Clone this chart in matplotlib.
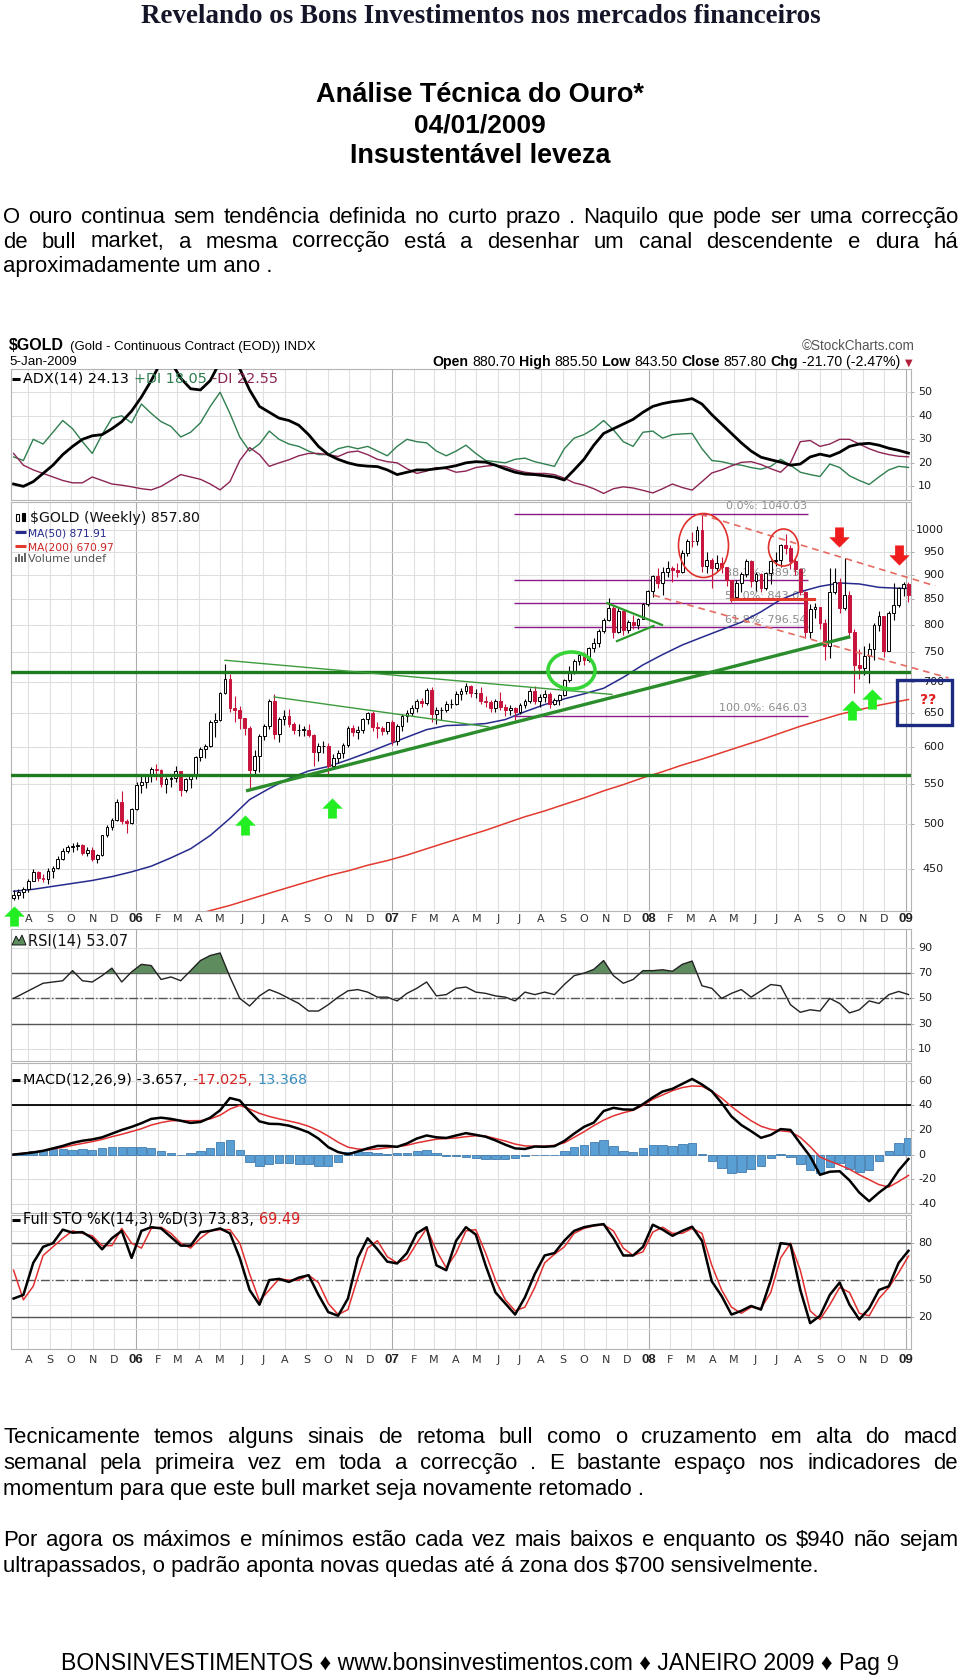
#!/usr/bin/env python3
import matplotlib
matplotlib.use('Agg')

import numpy as np
import pandas as pd
import matplotlib.pyplot as plt
import matplotlib.dates as mdates
import matplotlib.transforms as mtransforms
from matplotlib import font_manager
from matplotlib.path import Path
from matplotlib.patches import Rectangle, Polygon
from matplotlib.ticker import NullLocator
from matplotlib.transforms import Affine2D

# ---------------------------------------------------------------- data
# weekly $GOLD candles, one per week starting 11-Jul-2005 (last: 5-Jan-2009)
first_open = 420.0
closes = [423, 426, 429, 437, 447, 441, 440, 448, 451, 461,
          470, 474, 475, 476, 467, 471, 461, 465, 487, 497,
          505, 527, 504, 502, 518, 548, 552, 560, 570, 568,
          550, 556, 557, 567, 542, 556, 561, 586, 597, 602,
          637, 640, 681, 705, 657, 655, 643, 628, 568, 587,
          615, 630, 668, 618, 641, 646, 633, 624, 625, 625,
          617, 593, 601, 601, 574, 584, 592, 603, 627, 622,
          625, 641, 650, 629, 627, 623, 636, 609, 630, 645,
          650, 657, 669, 666, 686, 648, 654, 654, 664, 664,
          680, 684, 693, 681, 682, 668, 667, 657, 669, 660,
          654, 657, 651, 663, 668, 685, 669, 675, 680, 664,
          670, 678, 702, 715, 734, 745, 736, 757, 766, 789,
          809, 833, 787, 826, 790, 805, 799, 812, 840, 866,
          897, 883, 906, 914, 910, 907, 948, 976, 975, 1001,
          920, 933, 915, 925, 916, 889, 855, 884, 902, 930,
          887, 901, 872, 904, 930, 933, 965, 958, 929, 912,
          864, 786, 830, 834, 803, 762, 864, 886, 832, 859,
          787, 728, 723, 743, 755, 799, 817, 753, 823, 838,
          872, 880.7, 857.8]
highs = [428, 429, 431, 440, 450, 448, 445, 451, 453, 464,
         473, 476, 479, 480, 477, 474, 474, 466, 488, 499,
         507, 531, 541, 506, 520, 552, 560, 563, 572, 577,
         569, 559, 563, 573, 566, 557, 562, 587, 600, 604,
         640, 650, 683, 730, 712, 676, 661, 643, 630, 595,
         618, 634, 671, 679, 644, 654, 656, 637, 634, 631,
         634, 619, 605, 609, 605, 590, 595, 605, 630, 632,
         631, 643, 652, 653, 636, 630, 637, 640, 633, 648,
         654, 662, 672, 674, 690, 691, 659, 660, 668, 672,
         684, 690, 697, 694, 688, 691, 677, 670, 672, 683,
         664, 662, 660, 665, 671, 690, 693, 679, 686, 683,
         674, 680, 705, 726, 738, 749, 750, 759, 775, 792,
         813, 852, 837, 833, 828, 809, 818, 814, 843, 868,
         900, 914, 916, 930, 920, 925, 955, 980, 995, 1011,
         1040, 950, 937, 943, 938, 916, 890, 890, 906, 934,
         932, 907, 905, 906, 932, 951, 969, 990, 966, 935,
         915, 866, 841, 843, 834, 812, 915, 914, 894, 937,
         867, 792, 756, 761, 767, 804, 826, 817, 827, 882,
         875, 885, 885.5]
lows = [418, 419, 420, 426, 437, 437, 436, 434, 441, 450,
        460, 467, 468, 471, 465, 464, 459, 456, 464, 485,
        493, 504, 500, 490, 500, 517, 538, 545, 553, 555,
        546, 538, 546, 553, 535, 539, 545, 556, 580, 584,
        600, 614, 638, 680, 651, 637, 626, 617, 543, 560,
        566, 610, 626, 612, 607, 632, 629, 618, 615, 616,
        614, 573, 580, 592, 560, 569, 578, 584, 600, 615,
        612, 620, 633, 623, 613, 617, 618, 603, 603, 623,
        637, 645, 652, 659, 663, 636, 633, 640, 651, 658,
        662, 670, 679, 675, 673, 664, 659, 652, 652, 655,
        645, 647, 640, 649, 657, 666, 664, 660, 667, 658,
        662, 663, 677, 700, 712, 727, 728, 733, 750, 760,
        784, 808, 776, 785, 781, 784, 792, 793, 811, 836,
        855, 873, 858, 895, 886, 895, 905, 940, 962, 965,
        906, 905, 872, 908, 905, 876, 845, 849, 865, 896,
        874, 866, 865, 869, 880, 920, 917, 945, 912, 900,
        858, 775, 775, 814, 792, 736, 740, 860, 823, 829,
        776, 681, 705, 711, 697, 736, 788, 741, 752, 810,
        834, 856, 843.5]

# moving averages (week number -> value)
ma50_weeks = list(range(0, 181, 4)) + [182]
ma50 = [427, 429, 432, 435, 438, 442, 447, 453, 462, 472,
        487, 507, 530, 544, 557, 567, 573, 582, 592, 603,
        614, 625, 631, 632, 634, 640, 652, 663, 672, 680,
        689, 707, 728, 746, 763, 777, 791, 805, 825, 849,
        865, 876, 883, 881, 874, 872, 871.91]
ma200_weeks = list(range(36, 181, 4)) + [182]
ma200 = [403, 408, 413, 419, 425, 431, 437, 443, 448, 454,
         459, 465, 472, 479, 486, 493, 501, 509, 516, 524,
         532, 541, 549, 558, 566, 575, 583, 592, 601, 610,
         620, 630, 639, 648, 655, 662, 668, 670.97]

# indicator panels, one value every second week
adx = [11, 10, 12, 15.5, 19, 23.5, 27, 30, 31.5, 32,
       34.5, 37.5, 42, 48, 55, 63, 63, 56, 51.5, 51,
       55, 63, 63, 60, 51, 44, 41.5, 39, 38, 36,
       32, 27, 23.5, 21.5, 20, 19, 18.6, 18.4, 17, 15,
       16, 17, 17, 17.5, 18, 18.8, 20, 20.5, 20.3, 19,
       17.4, 16, 15.2, 15, 14.5, 14, 12.7, 17, 21.5, 27.5,
       32.5, 34.5, 36.5, 38.5, 41.5, 44, 45.2, 46, 46.5, 47.3,
       45, 40.5, 36.5, 32.5, 28.5, 25, 22.4, 21.3, 20.3, 19,
       19.5, 22.5, 23.7, 22.8, 24.5, 27, 28, 28.3, 27.5, 26.2,
       25.3, 24.13]
plus_di = [22.5, 21, 30, 28, 33, 38, 34.5, 29, 24, 32,
           39, 40, 37, 45, 41, 37.5, 35.5, 31, 33, 37,
           44, 50, 41, 31, 25, 28, 33.5, 30, 28, 27,
           25, 23.5, 23.5, 26, 27, 26, 27, 25, 23, 27,
           30, 29, 28.5, 25, 23, 25, 27.5, 24, 21, 20.5,
           20, 21.5, 22, 20.5, 19.5, 18.5, 26, 30.5, 32, 34.5,
           38, 34, 29, 27, 33, 33.5, 30.5, 32, 32.3, 32.5,
           26, 21, 20.5, 19.5, 19, 18, 17.3, 18.5, 21.5, 19,
           16, 15, 14.2, 19.5, 18, 14.5, 12.5, 10.8, 14, 17,
           18.5, 18.05]
minus_di = [24, 19, 17, 15.5, 14, 12.5, 11.5, 11.5, 14, 12.5,
            11, 10.5, 9.8, 9, 8.5, 10, 12.5, 15, 14, 13,
            11, 8.5, 12, 21, 26.5, 23.5, 18.5, 20, 21.3, 23,
            24, 24, 23.5, 22.7, 24.5, 25, 23.5, 21.5, 20.5, 20,
            17.5, 15.5, 16.5, 18, 17.5, 16, 16.5, 18, 18.6, 19,
            18.5, 17, 16, 15.5, 15.5, 15, 13.5, 11.5, 10.5, 9,
            7, 9, 9.8, 9.3, 8.3, 7.2, 9, 11, 9.5, 8.4,
            12, 15.7, 17, 18.7, 20.2, 20.5, 19.3, 17.5, 16, 20,
            29, 29.5, 27, 28, 30, 30, 28, 26, 24.5, 23.5,
            22.8, 22.55]
rsi = [50, 54, 58, 62, 63, 64, 72, 64, 63, 68,
       74, 63, 71, 77, 76, 65, 67, 64, 72, 80,
       84, 86, 67, 50, 44, 52, 57, 54, 50, 46,
       40, 40, 45, 51, 56, 57, 55, 51, 51, 48,
       54, 58, 63, 52, 53, 58, 59, 55, 54, 52,
       51, 48, 55, 53, 55, 53, 61, 68, 70, 73,
       80, 68, 62, 65, 72, 72, 72.7, 71.5, 77, 79.6,
       60, 58, 50, 54, 57, 51, 56, 61, 60, 45,
       39, 41, 40, 50, 46, 38.5, 41, 48, 46, 53,
       55.5, 53.07]
macd = [0, 0.8, 1.7, 3, 5, 7, 9.5, 11.2, 12.3, 14,
        17, 20, 22.5, 25.5, 29, 30, 29, 27.5, 25.7, 26.5,
        30, 36, 46, 44, 35, 27, 25, 24.8, 23.5, 21,
        18, 13, 6, 2, 0.2, 2.5, 5, 7, 7, 6.3,
        9, 13, 15.5, 14, 13.5, 15.5, 17.4, 16, 14.5, 11.5,
        8, 5, 4.5, 6.5, 6.3, 6.8, 11, 17, 22.5, 26,
        35.4, 38, 36.7, 36.5, 41, 46.5, 51.3, 53.5, 57.5, 61.5,
        57, 51.5, 42, 31, 24, 19, 13.6, 16, 20.7, 20,
        9, -1.5, -16.5, -14, -13.6, -21, -31, -38, -31, -25,
        -13, -3.657]
macd_signal = [0, 1, 2, 3, 4.5, 5.8, 7.5, 9, 10.5, 12.3,
               14.5, 16.5, 18.7, 21, 24, 26, 27.5, 27.6, 27.5, 27.6,
               29, 32, 37, 40, 37, 33.5, 31, 29, 27.3, 25.5,
               23, 19.5, 15, 10, 6, 4.5, 4, 4.5, 5.5, 6.3,
               7.5, 9.5, 11, 12.5, 13, 13.5, 14.5, 15.3, 15, 13,
               11, 8.5, 7, 6.8, 6.8, 7.5, 9.5, 14, 18.5, 23.5,
               28, 31.5, 34, 36, 40, 45, 48.5, 52, 54.5, 55.8,
               55.5, 51.5, 46, 39, 33, 27.5, 23, 20.5, 19.3, 18.5,
               14, 6.5, -2, -5.4, -8.5, -12, -16.5, -20.5, -24.5, -26.5,
               -22, -17.025]
macd_hist = [0.5, 1, 3, 4, 4.5, 4.5, 4, 4.5, 4, 5,
             6, 6.5, 6, 6.3, 5.5, 3, 1, 0, 1, 2.5,
             5, 10, 12, 4, -6, -9.7, -8, -7, -6.5, -7.5,
             -8, -9.5, -9.7, -6, 2, 3, 2, 1.5, 0.5, 1,
             1.5, 3, 3.5, 1, -1, -1.5, -2, -3, -3.5, -4,
             -4, -3, -1, -0.5, -0.5, 0, 3, 6, 8, 10,
             12, 7, 3, 2, 5, 8, 7.5, 7, 8.5, 9,
             0.5, -5, -11, -15, -14, -12, -9, -3, 0.5, -2,
             -8, -13, -15, -10, -7, -12, -14, -13, -5, 3,
             9, 13.368]
sto_k = [35, 38, 64, 77, 80, 91, 88.5, 89, 84, 75,
         84, 90, 68, 90, 93, 92, 85, 78, 78, 89,
         90, 92, 88, 68, 42, 30, 50, 51, 48.5, 52,
         54, 38, 24, 21, 35, 68, 84, 75, 65, 63.5,
         72, 88, 93, 62, 58, 82, 93, 87, 62, 40,
         31, 22, 36, 55, 70, 72, 82, 90, 93, 94.5,
         95.5, 84, 70, 70, 77, 95, 91, 86, 90, 93.4,
         82, 49, 37, 22, 25, 29, 26, 50, 80, 79,
         42, 15, 21, 38, 48, 30, 18, 27, 42, 45,
         64, 73.83]
sto_d = [58, 34, 45, 70, 77, 84, 90, 88, 86, 78,
         78, 92, 80, 76, 92, 93, 88, 80, 76, 84,
         90, 91, 91, 80, 55, 33, 42, 51, 50, 50,
         54, 48, 31, 22, 26, 52, 76, 82, 69, 64,
         67, 80, 92, 74, 60, 72, 90, 91, 72, 50,
         34, 25, 28, 44, 64, 71, 77, 88, 92, 94,
         95, 90, 76, 70, 73, 89, 93, 88, 88, 92,
         88, 62, 42, 28, 23, 28, 27, 40, 68, 80,
         58, 25, 18, 30, 44, 40, 23, 21, 35, 44,
         56, 69.49]

# drawn studies on the price panel (date, price)
support_levels = [716, 561]
uptrend = [('2006-06-07', 541), ('2008-10-14', 778)]
wedge_lines = [[('2006-05-08', 736), ('2007-11-10', 679)],
               [('2006-07-17', 675), ('2007-05-18', 629)]]
pennant = [[('2007-11-03', 842), ('2008-01-20', 800)],
           [('2007-11-17', 770), ('2008-01-08', 798)]]
channel = [[('2008-03-15', 1038), ('2009-02-12', 877)],
           [('2008-01-08', 858), ('2009-03-03', 706)]]
neckline = [('2008-04-27', 850), ('2008-08-23', 850)]
fib_high, fib_low = 1040.03, 646.03
fib_ratios = [0.0, 0.382, 0.5, 0.618, 1.0]
fib_span = ('2007-06-23', '2008-08-15')
red_rings = [('2008-03-18', 966, 50, 64), ('2008-07-10', 961, 30, 37)]
green_ring = ('2007-09-12', 719, 47, 37)
up_arrows = [('2005-07-12', 403), ('2006-06-05', 499), ('2006-10-08', 520),
             ('2008-10-17', 655), ('2008-11-14', 671)]
down_arrows = [('2008-09-28', 984), ('2008-12-22', 943)]

# page text
doc_header = 'Revelando os Bons Investimentos nos mercados financeiros'
title_lines = ['Análise Técnica do Ouro*', '04/01/2009', 'Insustentável leveza']
para1 = [('O ouro continua sem tendência definida no curto prazo . Naquilo que pode ser uma correcção', True),
         ('de bull market, a mesma correcção está a desenhar um canal descendente e dura há', True),
         ('aproximadamente um ano .', False)]
para2 = [('Tecnicamente temos alguns sinais de retoma bull como o cruzamento em alta do macd', True),
         ('semanal pela primeira vez em toda a correcção . E bastante espaço nos indicadores de', True),
         ('momentum para que este bull market seja novamente retomado .', False)]
para3 = [('Por agora os máximos e mínimos estão cada vez mais baixos e enquanto os $940 não sejam', True),
         ('ultrapassados, o padrão aponta novas quedas até á zona dos $700 sensivelmente.', False)]
footer = 'BONSINVESTIMENTOS \u2666 www.bonsinvestimentos.com \u2666 JANEIRO 2009 \u2666 Pag'


# ---------------------------------------------------------------- helpers
def pick(families):
    for fam in families:
        try:
            font_manager.findfont(font_manager.FontProperties(family=fam), fallback_to_default=False)
            return fam
        except ValueError:
            pass
    return 'DejaVu Sans'


body_font = pick(['Liberation Sans', 'Arial'])
serif_font = pick(['Liberation Serif', 'DejaVu Serif'])
narrow_font = pick(['Liberation Sans Narrow', 'Liberation Sans'])
chart_font = 'DejaVu Sans'

W, H = 960, 1676
L, R = 11, 911
fig = plt.figure(figsize=(W / 100, H / 100), dpi=100)
fig.patch.set_facecolor('white')
page = fig.add_axes([0, 0, 1, 1], zorder=10)
page.axis('off')
page.set_xlim(0, W)
page.set_ylim(H, 0)
page.set_autoscale_on(False)
renderer = fig.canvas.get_renderer()


def d2n(s):
    return mdates.date2num(pd.Timestamp(s).to_pydatetime())


def put(x, y, s, width=None, **kw):
    kw.setdefault('va', 'baseline')
    t = page.text(x, y, s, **kw)
    if width:
        for _ in range(2):
            w = t.get_window_extent(renderer).width
            t.set_fontsize(t.get_fontsize() * width / w)
    return t


def put_run(x, y, parts, size, width=None, gap=4, **kw):
    texts = []
    for s, extra in parts:
        props = dict(kw)
        props['fontsize'] = size
        props.update(extra)
        texts.append(page.text(x, y, s, va='baseline', **props))

    def layout():
        xx = x
        for t in texts:
            t.set_x(xx)
            xx += t.get_window_extent(renderer).width + gap
        return xx - gap - x

    total = layout()
    if width:
        for t in texts:
            t.set_fontsize(t.get_fontsize() * width / total)
        layout()
    return texts


TEXT_L, TEXT_R = 3, 958


def paragraph(baselines, lines, size):
    for y, (line, stretch) in zip(baselines, lines):
        if not stretch:
            page.text(TEXT_L, y, line, fontsize=size, family=body_font, va='baseline')
            continue
        words = line.split()
        ts = [page.text(0, y, w, fontsize=size, family=body_font, va='baseline') for w in words]
        ws = [t.get_window_extent(renderer).width for t in ts]
        gap = (TEXT_R - TEXT_L - sum(ws)) / (len(ts) - 1)
        x = TEXT_L
        for t, w in zip(ts, ws):
            t.set_x(x)
            x += w + gap


# ---------------------------------------------------------------- page text
put(481, 22.7, doc_header, width=679, family=serif_font, fontweight='bold', fontsize=18,
    ha='center', color='#15152a')
for y, s, w in zip([101.7, 132.7, 162.7], title_lines, [327, 132, 260]):
    put(480, y, s, width=w, family=body_font, fontweight='bold', fontsize=16, ha='center')

probe = put(TEXT_L, -100, para1[2][0], width=270, family=body_font, fontsize=15)
body_size = probe.get_fontsize()
probe.remove()
paragraph([222.7, 247.5, 271.7], para1, body_size)
paragraph([1443.3, 1469.3, 1495], para2, body_size)
paragraph([1546, 1572], para3, body_size)

put(61, 1669.5, footer, width=821, family=[body_font, 'DejaVu Sans'], fontsize=14)
put(886, 1670, '9', family=serif_font, fontsize=17)

# ---------------------------------------------------------------- chart frame
week_dates = pd.date_range('2005-07-11', periods=len(closes), freq='7D')
xw = mdates.date2num(week_dates.to_pydatetime())
xi = xw[::2]
x_left = d2n('2005-07-07 08:00')
x_right = d2n('2009-01-08 14:00')
month_starts = pd.date_range('2005-08-01', '2009-01-01', freq='MS')
month_letters = 'JFMAMJJASOND'


def panel(top, bottom):
    ax = fig.add_axes([L / W, 1 - bottom / H, (R - L) / W, (bottom - top) / H])
    ax.set_xlim(x_left, x_right)
    ax.set_xticks([])
    for sp in ax.spines.values():
        sp.set_color('#b4b4b4')
        sp.set_linewidth(0.8)
    ax.yaxis.tick_right()
    ax.tick_params(axis='y', which='both', length=2.5, width=0.6, color='#a0a0a0', labelright=False)
    for m in month_starts:
        ax.axvline(d2n(m), color='#ababab' if m.month == 1 else '#e0e0e0', lw=0.8, zorder=0)
    return ax


def ylabels(ax, values, x_px=918, ha='left', grid=True):
    tr = mtransforms.blended_transform_factory(ax.transAxes, ax.transData)
    ax.set_yticks(values)
    ax.tick_params(axis='y', labelright=False)
    for v in values:
        ax.text((x_px - L) / (R - L), v, str(v), transform=tr, ha=ha, va='center', fontsize=8,
                family=chart_font, color='#1a1a1a', clip_on=False)
        if grid:
            ax.axhline(v, color='#dedede', lw=0.8, zorder=0)


# chart header
put(9, 350.5, '$GOLD', width=55, family=narrow_font, fontweight='bold', fontsize=12)
put(70, 350, '(Gold - Continuous Contract (EOD)) INDX', width=248, family=narrow_font, fontsize=10)
put(915, 350, '\u00a9StockCharts.com', width=113, family=narrow_font, fontsize=10, ha='right', color='#555555')
put(9, 365, '5-Jan-2009', width=68, family=narrow_font, fontsize=9)
b = {'fontweight': 'bold'}
n = {}
put_run(432, 366, [('Open', b), ('880.70', n), ('High', b), ('885.50', n), ('Low', b), ('843.50', n),
                   ('Close', b), ('857.80', n), ('Chg', b), ('-21.70 (-2.47%)', n),
                   ('\u25bc', {'color': '#b0203a', 'fontsize': 7, 'family': chart_font})],
        10, width=480, gap=4, family=narrow_font)

# ---------------------------------------------------------------- ADX panel
ax_adx = panel(369, 500)
ax_adx.set_ylim(4.2, 59.9)
ylabels(ax_adx, [50, 40, 30, 20, 10])
ax_adx.plot(xi, plus_di, color='#2f7f50', lw=1.0, zorder=3)
ax_adx.plot(xi, minus_di, color='#8c2455', lw=1.0, zorder=3)
ax_adx.plot(xi, adx, color='black', lw=2.0, zorder=4)
page.plot([12, 20], [379, 379], color='black', lw=2.2, solid_capstyle='butt')
put_run(23, 383, [('ADX(14) 24.13', {'color': 'black'}), ('+DI 18.05', {'color': '#2f7f50'}),
                  ('-DI 22.55', {'color': '#8c2455'})], 8, width=259, gap=5, family=chart_font)

# ---------------------------------------------------------------- price panel
ax_p = panel(502, 911)
ax_p.set_yscale('log')
ax_p.set_ylim(407.6, 1068.7)
ylabels(ax_p, list(range(450, 1001, 50)), x_px=944, ha='right')
ax_p.yaxis.set_minor_locator(NullLocator())

c = np.asarray(closes, float)
hi = np.asarray(highs, float)
lo = np.asarray(lows, float)
o = np.r_[first_open, c[:-1]]
up = c >= o
red = '#c8143c'
ax_p.vlines(xw[up], lo[up], hi[up], color='black', lw=0.8, zorder=2.8)
ax_p.vlines(xw[~up], lo[~up], hi[~up], color=red, lw=0.8, zorder=2.8)
body_lo = np.minimum(o, c)
body_h = np.maximum(np.abs(c - o), 0.3)
ax_p.bar(xw[up], body_h[up], bottom=body_lo[up], width=4.0, color='white', edgecolor='black', lw=0.7, zorder=3)
ax_p.bar(xw[~up], body_h[~up], bottom=body_lo[~up], width=4.0, color=red, edgecolor=red, lw=0.7, zorder=3)

ax_p.plot(xw[ma50_weeks], ma50, color='#262a8c', lw=1.1, zorder=2.5)
ax_p.plot(xw[ma200_weeks], ma200, color='#e23a2e', lw=1.1, zorder=2.5)

fx0, fx1 = d2n(fib_span[0]), d2n(fib_span[1])
for r in fib_ratios:
    lvl = fib_high - r * (fib_high - fib_low)
    ax_p.hlines(lvl, fx0, fx1, color='#8a1a8a', lw=1.0, zorder=1.5)
    ax_p.annotate(f'{r * 100:.1f}%: {lvl:.2f}', (fx1, lvl), xytext=(-1, 1.5), textcoords='offset points',
                  ha='right', va='bottom', fontsize=8, family=chart_font, color='#8c8c8c', zorder=1.6)

for lvl in support_levels:
    ax_p.axhline(lvl, color='#1e7b1e', lw=2.4, zorder=4)


def seg(ax, pts, **kw):
    ax.plot([d2n(p[0]) for p in pts], [p[1] for p in pts], **kw)


seg(ax_p, uptrend, color='#2a8c2a', lw=2.4, zorder=4, solid_capstyle='butt')
for ln in wedge_lines:
    seg(ax_p, ln, color='#3c9c3c', lw=1.0, zorder=4)
for ln in pennant:
    seg(ax_p, ln, color='#2a9a2a', lw=1.6, zorder=4)
for ln in channel:
    seg(ax_p, ln, color='#e66a60', lw=1.2, dashes=(4, 3), zorder=4, clip_on=False)
seg(ax_p, neckline, color='#e2382a', lw=2.2, zorder=4)


def ellipse_marker(w, h):
    m = max(w, h)
    return Affine2D().scale(w / m, h / m).transform_path(Path.unit_circle())


arrow_up = Path([(-0.5, 0.0), (0.0, 0.5), (0.5, 0.0), (0.22, 0.0), (0.22, -0.5),
                 (-0.22, -0.5), (-0.22, 0.0), (-0.5, 0.0)], closed=True)
arrow_down = Affine2D().scale(1, -1).transform_path(arrow_up)

for d, p, w, h in red_rings:
    ax_p.plot(d2n(d), p, marker=ellipse_marker(w, h), ms=max(w, h) * 0.72, mfc='none',
              mec='#e0302a', mew=1.2, ls='none', zorder=6)
d, p, w, h = green_ring
ax_p.plot(d2n(d), p, marker=ellipse_marker(w, h), ms=max(w, h) * 0.72, mfc='none',
          mec='#36d436', mew=2.6, ls='none', zorder=6)
for d, p in up_arrows:
    ax_p.plot(d2n(d), p, marker=arrow_up, ms=14, mfc='#22ee22', mec='#22ee22', mew=0.3,
              ls='none', zorder=6, clip_on=False)
for d, p in down_arrows:
    ax_p.plot(d2n(d), p, marker=arrow_down, ms=14, mfc='#ee1c1c', mec='#ee1c1c', mew=0.3,
              ls='none', zorder=6, clip_on=False)

page.add_patch(Rectangle((897, 680), 55, 45, fill=False, ec='#1c2a80', lw=2.4, zorder=12))
page.text(928, 700, '??', color='#e02020', fontweight='bold', fontsize=10, ha='center', va='center',
          family=chart_font)

# price legend
page.add_patch(Rectangle((15.5, 514), 3, 7, fc='white', ec='black', lw=0.8))
page.add_patch(Rectangle((21.5, 513), 3, 8, fc='black', ec='black', lw=0.8))
put(30, 522, '$GOLD (Weekly) 857.80', width=169, family=chart_font, fontsize=9.5, color='#111111')
page.plot([15, 26], [532, 532], color='#262a8c', lw=2.2, solid_capstyle='butt')
put(28, 536, 'MA(50) 871.91', width=79, family=chart_font, fontsize=8, color='#262a8c')
page.plot([15, 26], [546, 546], color='#e23a2e', lw=2.2, solid_capstyle='butt')
put(28, 550, 'MA(200) 670.97', width=85, family=chart_font, fontsize=8, color='#cc2222')
for k, hgt in enumerate([5, 8, 6, 9]):
    page.add_patch(Rectangle((15 + k * 3, 562 - hgt), 2, hgt, fc='#666666', ec='none'))
put(28, 562, 'Volume undef', width=78, family=chart_font, fontsize=8, color='#555555')

# ---------------------------------------------------------------- RSI panel
ax_r = panel(929, 1061)
ax_r.set_ylim(0.4, 105)
ylabels(ax_r, [90, 70, 50, 30, 10])
ax_r.axhline(70, color='#555555', lw=1.0, zorder=1)
ax_r.axhline(30, color='#555555', lw=1.0, zorder=1)
ax_r.axhline(50, color='#555555', lw=1.0, ls='-.', zorder=1)
rs = np.asarray(rsi, float)
ax_r.fill_between(xi, 70, rs, where=rs >= 70, interpolate=True, color='#5f8c5f', lw=0, zorder=2)
ax_r.plot(xi, rs, color='#222222', lw=1.0, zorder=3)
page.add_patch(Polygon([(12, 945), (16, 936), (19, 941), (22, 935), (26, 945)], closed=True,
                       fc='#5f8c5f', ec='black', lw=0.6))
put(28, 945, 'RSI(14) 53.07', width=101, family=chart_font, fontsize=8, color='#111111')

# ---------------------------------------------------------------- MACD panel
ax_m = panel(1063, 1213)
ax_m.set_ylim(-47.6, 74.5)
ylabels(ax_m, [60, 40, 20, 0, -20, -40])
ax_m.axhline(40, color='black', lw=1.3, zorder=1.5)
ax_m.bar(xi, macd_hist, width=12, color='#5a9fd4', edgecolor='#2b6ca3', lw=0.5, zorder=2)
ax_m.plot(xi, macd_signal, color='#e23030', lw=1.1, zorder=3)
ax_m.plot(xi, macd, color='black', lw=1.8, zorder=4)
page.plot([12, 20], [1080, 1080], color='black', lw=2.2, solid_capstyle='butt')
put_run(23, 1084, [('MACD(12,26,9) -3.657,', {'color': 'black'}), ('-17.025,', {'color': '#d42020'}),
                   ('13.368', {'color': '#3a8fc0'})], 8, width=289, gap=5, family=chart_font)

# ---------------------------------------------------------------- STO panel
ax_s = panel(1215, 1349)
ax_s.set_ylim(-6, 102.9)
ylabels(ax_s, [80, 50, 20], grid=False)
for v in [10, 30, 40, 60, 70, 90, 100]:
    ax_s.axhline(v, color='#e6e6e6', lw=0.7, zorder=0)
ax_s.axhline(80, color='#555555', lw=1.0, zorder=1)
ax_s.axhline(20, color='#555555', lw=1.0, zorder=1)
ax_s.axhline(50, color='#555555', lw=1.0, ls='-.', zorder=1)
ax_s.plot(xi, sto_d, color='#e23030', lw=1.1, zorder=3)
ax_s.plot(xi, sto_k, color='black', lw=1.8, zorder=4)
page.plot([12, 20], [1219.5, 1219.5], color='black', lw=2.2, solid_capstyle='butt')
put_run(23, 1223.5, [('Full STO %K(14,3) %D(3) 73.83,', {'color': 'black'}), ('69.49', {'color': '#d42020'})],
        8, width=280, gap=5, family=chart_font)

# ---------------------------------------------------------------- month labels
for y_px in (919, 1360):
    for m in month_starts:
        x_px = ax_p.transData.transform((d2n(m), 500))[0]
        if m.month == 1:
            page.text(x_px, y_px, m.strftime('%y'), ha='center', va='center', fontsize=9.5,
                      fontweight='bold', family=narrow_font, color='#222222')
        else:
            page.text(x_px, y_px, month_letters[m.month - 1], ha='center', va='center', fontsize=8,
                      family=chart_font, color='#333333')

fig.savefig('out.png', dpi=100, facecolor='white')
